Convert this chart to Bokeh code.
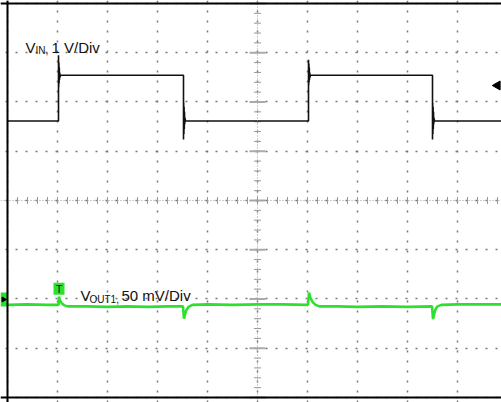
import numpy as np
from bokeh.plotting import figure
from bokeh.models import Range1d, Span, Label, Grid, FixedTicker
from bokeh.embed import file_html
from bokeh.resources import INLINE

# Oscilloscope screen: 10 horizontal divisions, 8 vertical divisions
# time axis in divisions, amplitudes in divisions (CH1 1 V/Div, CH2 50 mV/Div)
vin_t = [0.00, 1.02, 1.02, 1.024, 1.028, 1.032, 1.036, 1.04, 1.045, 1.05, 1.06,
         3.52, 3.52, 3.524, 3.528, 3.532, 3.536, 3.54, 3.545, 3.55, 3.56,
         6.02, 6.02, 6.024, 6.028, 6.032, 6.036, 6.04, 6.045, 6.05, 6.06,
         8.50, 8.50, 8.504, 8.508, 8.512, 8.516, 8.52, 8.525, 8.53, 8.54, 9.90]
vin_v = [1.614, 1.614, 2.95, 2.30, 2.80, 2.38, 2.70, 2.45, 2.60, 2.50, 2.544,
         2.544, 1.24, 1.99, 1.35, 1.90, 1.45, 1.80, 1.55, 1.68, 1.614,
         1.614, 2.86, 2.34, 2.78, 2.40, 2.70, 2.45, 2.60, 2.50, 2.544,
         2.544, 1.24, 1.98, 1.35, 1.90, 1.45, 1.80, 1.55, 1.68, 1.614, 1.614]

vout_t = [0.00, 0.40, 0.80, 1.02, 1.03, 1.05, 1.08, 1.14, 1.20, 1.60, 2.00, 2.40, 2.80, 3.20, 3.51,
          3.53, 3.55, 3.58, 3.62, 3.70, 4.00, 4.50, 5.00, 5.50, 6.01,
          6.03, 6.06, 6.10, 6.16, 6.24, 6.60, 7.00, 7.50, 8.00, 8.49,
          8.51, 8.53, 8.56, 8.60, 8.68, 9.00, 9.40, 9.90]
vout_v = [-2.12, -2.11, -2.12, -2.12, -1.95, -2.03, -2.08, -2.13, -2.15, -2.15, -2.16, -2.15, -2.16, -2.15, -2.15,
          -2.40, -2.31, -2.22, -2.16, -2.12, -2.11, -2.12, -2.11, -2.11, -2.12,
          -1.87, -1.98, -2.06, -2.12, -2.15, -2.15, -2.16, -2.15, -2.16, -2.15,
          -2.41, -2.31, -2.21, -2.15, -2.12, -2.11, -2.11, -2.11]

trigger_t = 1.02          # trigger position (div)
trigger_level = 2.335     # CH1 trigger level marker (div)
ch2_ground = -2.01        # CH2 reference marker (div)
trig_mark_y = -1.79
x_ticks = list(range(0, 11))
y_ticks = list(range(-4, 5))

GREEN = "#2ee02e"
FONT = "Liberation Sans"

p = figure(width=501, height=402, x_range=Range1d(-0.14, 9.88), y_range=Range1d(-4.102, 4.061),
           output_backend="svg", toolbar_location=None, x_axis_type=None, y_axis_type=None,
           min_border=0, outline_line_color=None, background_fill_color="white",
           border_fill_color="white")

# dotted graticule
p.add_layout(Grid(dimension=0, ticker=FixedTicker(ticks=x_ticks), grid_line_color="#777777",
                  grid_line_dash="2 8", grid_line_width=1.5))
p.add_layout(Grid(dimension=1, ticker=FixedTicker(ticks=y_ticks), grid_line_color="#777777",
                  grid_line_dash="2 8", grid_line_dash_offset=5, grid_line_width=1.5))

# centre cross with fine ticks
p.add_layout(Span(location=5, dimension="height", line_color="#9a9a9a", line_dash="1 2", line_width=1))
p.add_layout(Span(location=0, dimension="width", line_color="#9a9a9a", line_dash="1 2", line_width=1))
ys_minor = np.arange(-3.8, 3.9, 0.2)
p.scatter(x=5, y=ys_minor, marker="dash", size=7, line_color="#999999", line_width=1)
p.scatter(x=5, y=np.array(y_ticks, dtype=float), marker="dash", size=16, line_color="#aaaaaa", line_width=2)
xs_minor = np.arange(0.2, 9.9, 0.2)
p.scatter(x=xs_minor, y=0, marker="dash", angle=np.pi / 2, size=7, line_color="#999999", line_width=1)

# screen border (left, top, bottom)
p.add_layout(Span(location=0, dimension="height", line_color="black", line_width=2))
p.add_layout(Span(location=4, dimension="width", line_color="black", line_width=2))
p.add_layout(Span(location=-4, dimension="width", line_color="black", line_width=2))

# traces
p.line(vin_t, vin_v, line_color="#111111", line_width=1.6)
p.line(vout_t, vout_v, line_color=GREEN, line_width=2.6)

# markers
p.scatter(x=[9.8], y=[trigger_level], marker="triangle", angle=np.pi / 2, size=9,
          fill_color="black", line_color="black")
p.rect(x=[-0.07], y=[ch2_ground], width=7, height=14, width_units="screen", height_units="screen",
       fill_color=GREEN, line_color=None)
p.scatter(x=[-0.08], y=[ch2_ground], marker="triangle", angle=-np.pi / 2, size=5,
          fill_color="black", line_color="black")
p.rect(x=[trigger_t + 0.01], y=[trig_mark_y], width=11, height=12, width_units="screen",
       height_units="screen", fill_color=GREEN, line_color=None)
p.add_layout(Label(x=trigger_t + 0.01, y=trig_mark_y, text="T", text_font=FONT, text_font_size="11px",
                   text_align="center", text_baseline="middle", text_color="#111111"))

# channel labels
def lab(x, y, t, size):
    p.add_layout(Label(x=x, y=y, text=t, text_font=FONT, text_font_size=size,
                       text_align="left", text_baseline="alphabetic", text_color="#111111"))

lab(0.36, 3.107, "V", "15px")
lab(0.56, 3.046, "IN,", "10px")
lab(0.88, 3.107, "1 V/Div", "15px")
lab(1.46, -1.929, "V", "15px")
lab(1.64, -2.01, "OUT1,", "10px")
lab(2.28, -1.929, "50 mV/Div", "15px")

open("out.html", "w").write(file_html(p, INLINE))
